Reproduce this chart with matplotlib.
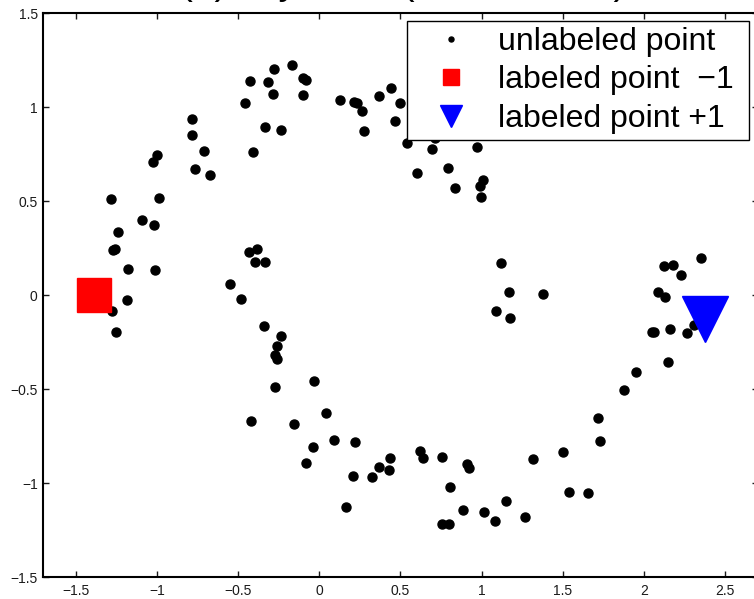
import matplotlib.pyplot as plt
from matplotlib.lines import Line2D

plt.rcParams['font.family'] = ['Liberation Sans', 'DejaVu Sans']

# unlabeled points (two moons)
unlabeled_x = [
    -0.170, -0.279, -0.427, -0.316, -0.098, -0.082, -0.283, -0.102, 0.125, -0.459,
    -0.782, -0.784, -0.336, -0.234, -0.710, -0.406, -1.001, -1.022, -0.764, -0.673,
    -1.284, -0.985, -1.092, -1.018, -1.238, -1.268, -1.256, -1.178, -1.010, -0.435,
    -0.382, -0.396, -0.336, -0.550, -0.484, -1.186,
    -1.278, -1.254, -0.339, -0.238, -0.259, -0.271, -0.259, -0.275, -0.034, -0.419,
    -0.156, 0.041, 0.089, 0.222, -0.041, -0.082, 0.209, 0.323, 0.367, 0.438,
    0.431, 0.163,
    1.117, 1.170, 1.086, 1.176, 1.377, 0.618, 0.640, 0.756, 0.911, 0.924,
    0.805, 0.756, 0.799, 0.887, 1.014, 1.082, 1.148, 1.267, 1.316, 1.502,
    1.540, 1.653, 1.718, 1.728, 1.878, 1.952, 2.149, 2.050, 2.058, 2.161,
    2.262, 2.307, 2.087, 2.129, 2.122, 2.176, 2.225, 2.349,
    0.216, 0.234, 0.265, 0.277, 0.368, 0.443, 0.497, 0.468, 0.715, 0.538,
    0.696, 0.973, 0.600, 0.794, 0.837, 1.006, 0.991, 0.994,
]
unlabeled_y = [
    1.225, 1.205, 1.138, 1.135, 1.157, 1.145, 1.071, 1.065, 1.037, 1.024,
    0.939, 0.851, 0.895, 0.881, 0.768, 0.764, 0.746, 0.707, 0.672, 0.638,
    0.514, 0.519, 0.399, 0.372, 0.335, 0.241, 0.244, 0.141, 0.133, 0.229,
    0.248, 0.176, 0.176, 0.062, -0.020, -0.025,
    -0.082, -0.194, -0.165, -0.216, -0.270, -0.316, -0.337, -0.486, -0.454, -0.670,
    -0.683, -0.628, -0.768, -0.779, -0.807, -0.892, -0.961, -0.965, -0.914, -0.864,
    -0.930, -1.126,
    0.172, 0.019, -0.084, -0.121, 0.009, -0.827, -0.865, -0.862, -0.899, -0.920,
    -1.021, -1.216, -1.216, -1.142, -1.153, -1.200, -1.092, -1.181, -0.869, -0.835,
    -1.046, -1.050, -0.654, -0.775, -0.504, -0.410, -0.356, -0.194, -0.196, -0.178,
    -0.199, -0.160, 0.019, -0.007, 0.156, 0.160, 0.110, 0.200,
    1.030, 1.024, 0.982, 0.876, 1.059, 1.101, 1.021, 0.929, 0.835, 0.809,
    0.778, 0.789, 0.649, 0.676, 0.569, 0.613, 0.583, 0.521,
]

neg_x, neg_y = [-1.385], [0.0]
pos_x, pos_y = [2.375], [-0.124]

legend_labels = ['unlabeled point', 'labeled point  \u22121 ', 'labeled point +1']
title_text = '(a) Toy Data (Two Moons)'
x_ticks = [-1.5, -1, -0.5, 0, 0.5, 1, 1.5, 2, 2.5]
y_ticks = [-1.5, -1, -0.5, 0, 0.5, 1, 1.5]


def fmt(v):
    return ('%g' % v).replace('-', '\u2212')


fig = plt.figure(figsize=(7.54, 5.99), dpi=100)
ax = fig.add_axes([0.0573, 0.0362, 0.9477, 0.9416])

ax.plot(unlabeled_x, unlabeled_y, 'o', color='k', ms=6.5, ls='none')
ax.plot(neg_x, neg_y, 's', color='red', mec='red', ms=24.5, ls='none')
ax.plot(pos_x, pos_y, 'v', color='blue', mec='blue', ms=33, ls='none')

ax.set_xlim(-1.7, 2.7)
ax.set_ylim(-1.5, 1.5)
ax.set_xticks(x_ticks)
ax.set_xticklabels([fmt(v) for v in x_ticks])
ax.set_yticks(y_ticks)
ax.set_yticklabels([fmt(v) for v in y_ticks])
ax.tick_params(direction='in', length=4.5, width=1, top=True, right=True,
               labelsize=10, colors='#1a1a1a', pad=4)
ax.tick_params(axis='x', pad=5)
for s in ax.spines.values():
    s.set_linewidth(1.5)

handles = [
    Line2D([], [], marker='o', color='k', ls='none', ms=3.6),
    Line2D([], [], marker='s', color='red', ls='none', ms=12),
    Line2D([], [], marker='v', color='blue', ls='none', ms=16),
]
leg = ax.legend(handles, legend_labels, loc='upper right',
                bbox_to_anchor=(749 / 754, (599 - 20.7) / 599),
                bbox_transform=fig.transFigure, borderaxespad=0,
                fontsize=23, fancybox=False, framealpha=1, edgecolor='k',
                borderpad=0.2, labelspacing=0.26, handlelength=2.4,
                handletextpad=0.26)
leg.get_frame().set_linewidth(1.0)

fig.text(0.5345, 1.0105, title_text, ha='center', va='baseline', fontsize=28)

fig.savefig('out.png', dpi=100)
